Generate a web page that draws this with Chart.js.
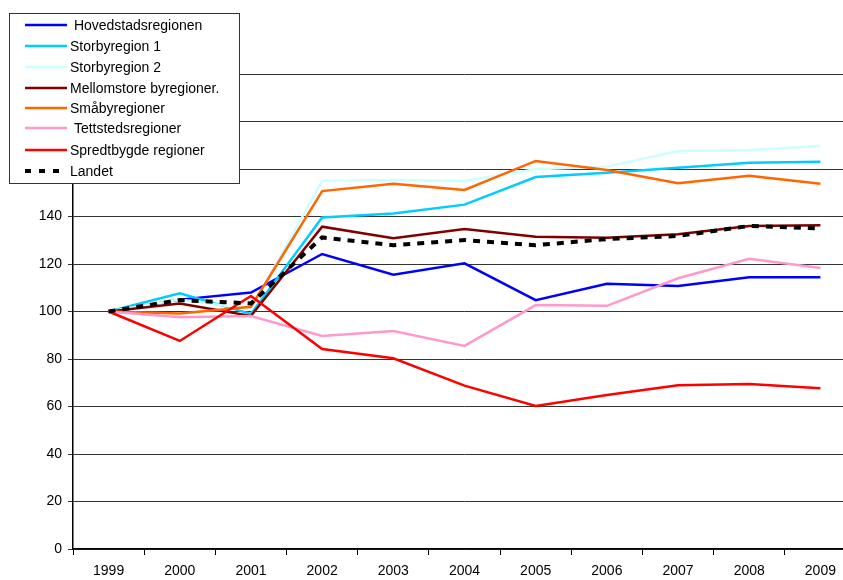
<!DOCTYPE html>
<html>
<head>
<meta charset="utf-8">
<script src="https://cdn.jsdelivr.net/npm/chart.js@4/dist/chart.umd.min.js"></script>
<style>
html,body{margin:0;padding:0;background:#fff;overflow:hidden;width:843px;height:580px;}
#wrap{position:absolute;left:0;top:0;width:860px;height:580px;}
</style>
</head>
<body>
<div id="wrap"><canvas id="c" width="860" height="580"></canvas></div>
<script>
const years = ['1999','2000','2001','2002','2003','2004','2005','2006','2007','2008','2009'];
const yTicks = [0,20,40,60,80,100,120,140,160,180,200];

const hovedstadsregionen = [100,105,108,124.2,115.5,120.3,104.8,111.7,110.7,114.4,114.4];
const storbyregion1      = [100,107.7,99,139.6,141.3,145,156.6,158.4,160.5,162.6,163.1];
const storbyregion2      = [100,105,101,155,155.4,155,159.9,161,167.6,168,169.7];
const mellomstore        = [100,103.4,98.1,135.7,130.8,134.7,131.5,131.1,132.5,136,136.3];
const smabyregioner      = [100,99.2,102,150.7,153.8,151.2,163.4,159.6,154,157.2,153.8];
const tettstedsregioner  = [100,97.6,98.1,89.7,91.8,85.5,102.7,102.4,114,122.2,118.3];
const spredtbygde        = [100,87.6,106.5,84.2,80.3,68.8,60.2,64.8,68.9,69.5,67.7];
const landet             = [100,104.8,103.4,131.2,127.9,130.1,127.9,130.5,131.8,136,135];

const seriesLabels = [' Hovedstadsregionen','Storbyregion 1','Storbyregion 2','Mellomstore byregioner.','Småbyregioner',' Tettstedsregioner','Spredtbygde regioner','Landet'];
const seriesData = [hovedstadsregionen,storbyregion1,storbyregion2,mellomstore,smabyregioner,tettstedsregioner,spredtbygde,landet];
const seriesColors = ['#0000ff','#00ccff','#ccffff','#800000','#ff6600','#ff99cc','#ff0000','#000000'];

const FONT = "'Liberation Sans', Arial, sans-serif";

const datasets = seriesData.map((d,i)=>({
  label: seriesLabels[i],
  data: d,
  borderColor: seriesColors[i],
  backgroundColor: seriesColors[i],
  borderWidth: i===7 ? 4 : 2.5,
  borderDash: i===7 ? [7,7] : [],
  pointRadius: 0,
  tension: 0,
  fill: false,
  order: seriesData.length - i
}));

const legendPlugin = {
  id:'boxLegend',
  afterDraw(chart){
    const ctx = chart.ctx;
    ctx.save();
    ctx.fillStyle='#fff';
    ctx.fillRect(9,13,231,171);
    ctx.strokeStyle='#333';
    ctx.lineWidth=1;
    ctx.strokeRect(9.5,13.5,230,170);
    const rows=[25,46,67,88,108,128,150,171];
    chart.data.datasets.forEach((ds,i)=>{
      const y=rows[i];
      ctx.beginPath();
      ctx.strokeStyle=ds.borderColor;
      ctx.lineWidth= i===7 ? 4 : 2.5;
      ctx.setLineDash(i===7 ? [6,8] : []);
      ctx.moveTo(25,y);ctx.lineTo(67,y);ctx.stroke();
      ctx.setLineDash([]);
      ctx.fillStyle='#000';
      ctx.font='14px '+FONT;
      ctx.textBaseline='middle';
      ctx.textAlign='left';
      ctx.fillText(ds.label,70,y+1);
    });
    ctx.restore();
  }
};

new Chart(document.getElementById('c'),{
  type:'line',
  data:{labels:years,datasets},
  options:{
    responsive:false,
    animation:false,
    devicePixelRatio:1,
    layout:{padding:{top:74,right:4,left:0,bottom:0}},
    plugins:{legend:{display:false},tooltip:{enabled:false}},
    scales:{
      x:{
        type:'category',
        offset:true,
        grid:{display:true,drawOnChartArea:false,drawTicks:true,tickLength:6,color:'#000',offset:true},
        border:{display:true,color:'#000',width:1.5},
        ticks:{color:'#000',font:{family:FONT,size:14},padding:8,maxRotation:0,autoSkip:false},
        afterFit(s){s.height=31;}
      },
      y:{
        min:0,max:200,
        afterBuildTicks(s){s.ticks=yTicks.map(v=>({value:v}));},
        grid:{color:'#333',lineWidth:1,drawTicks:true,tickLength:5},
        border:{display:true,color:'#000',width:1.5},
        ticks:{color:'#000',font:{family:FONT,size:14},padding:6},
        afterFit(s){s.width=73;}
      }
    }
  },
  plugins:[legendPlugin]
});
</script>
</body>
</html>
